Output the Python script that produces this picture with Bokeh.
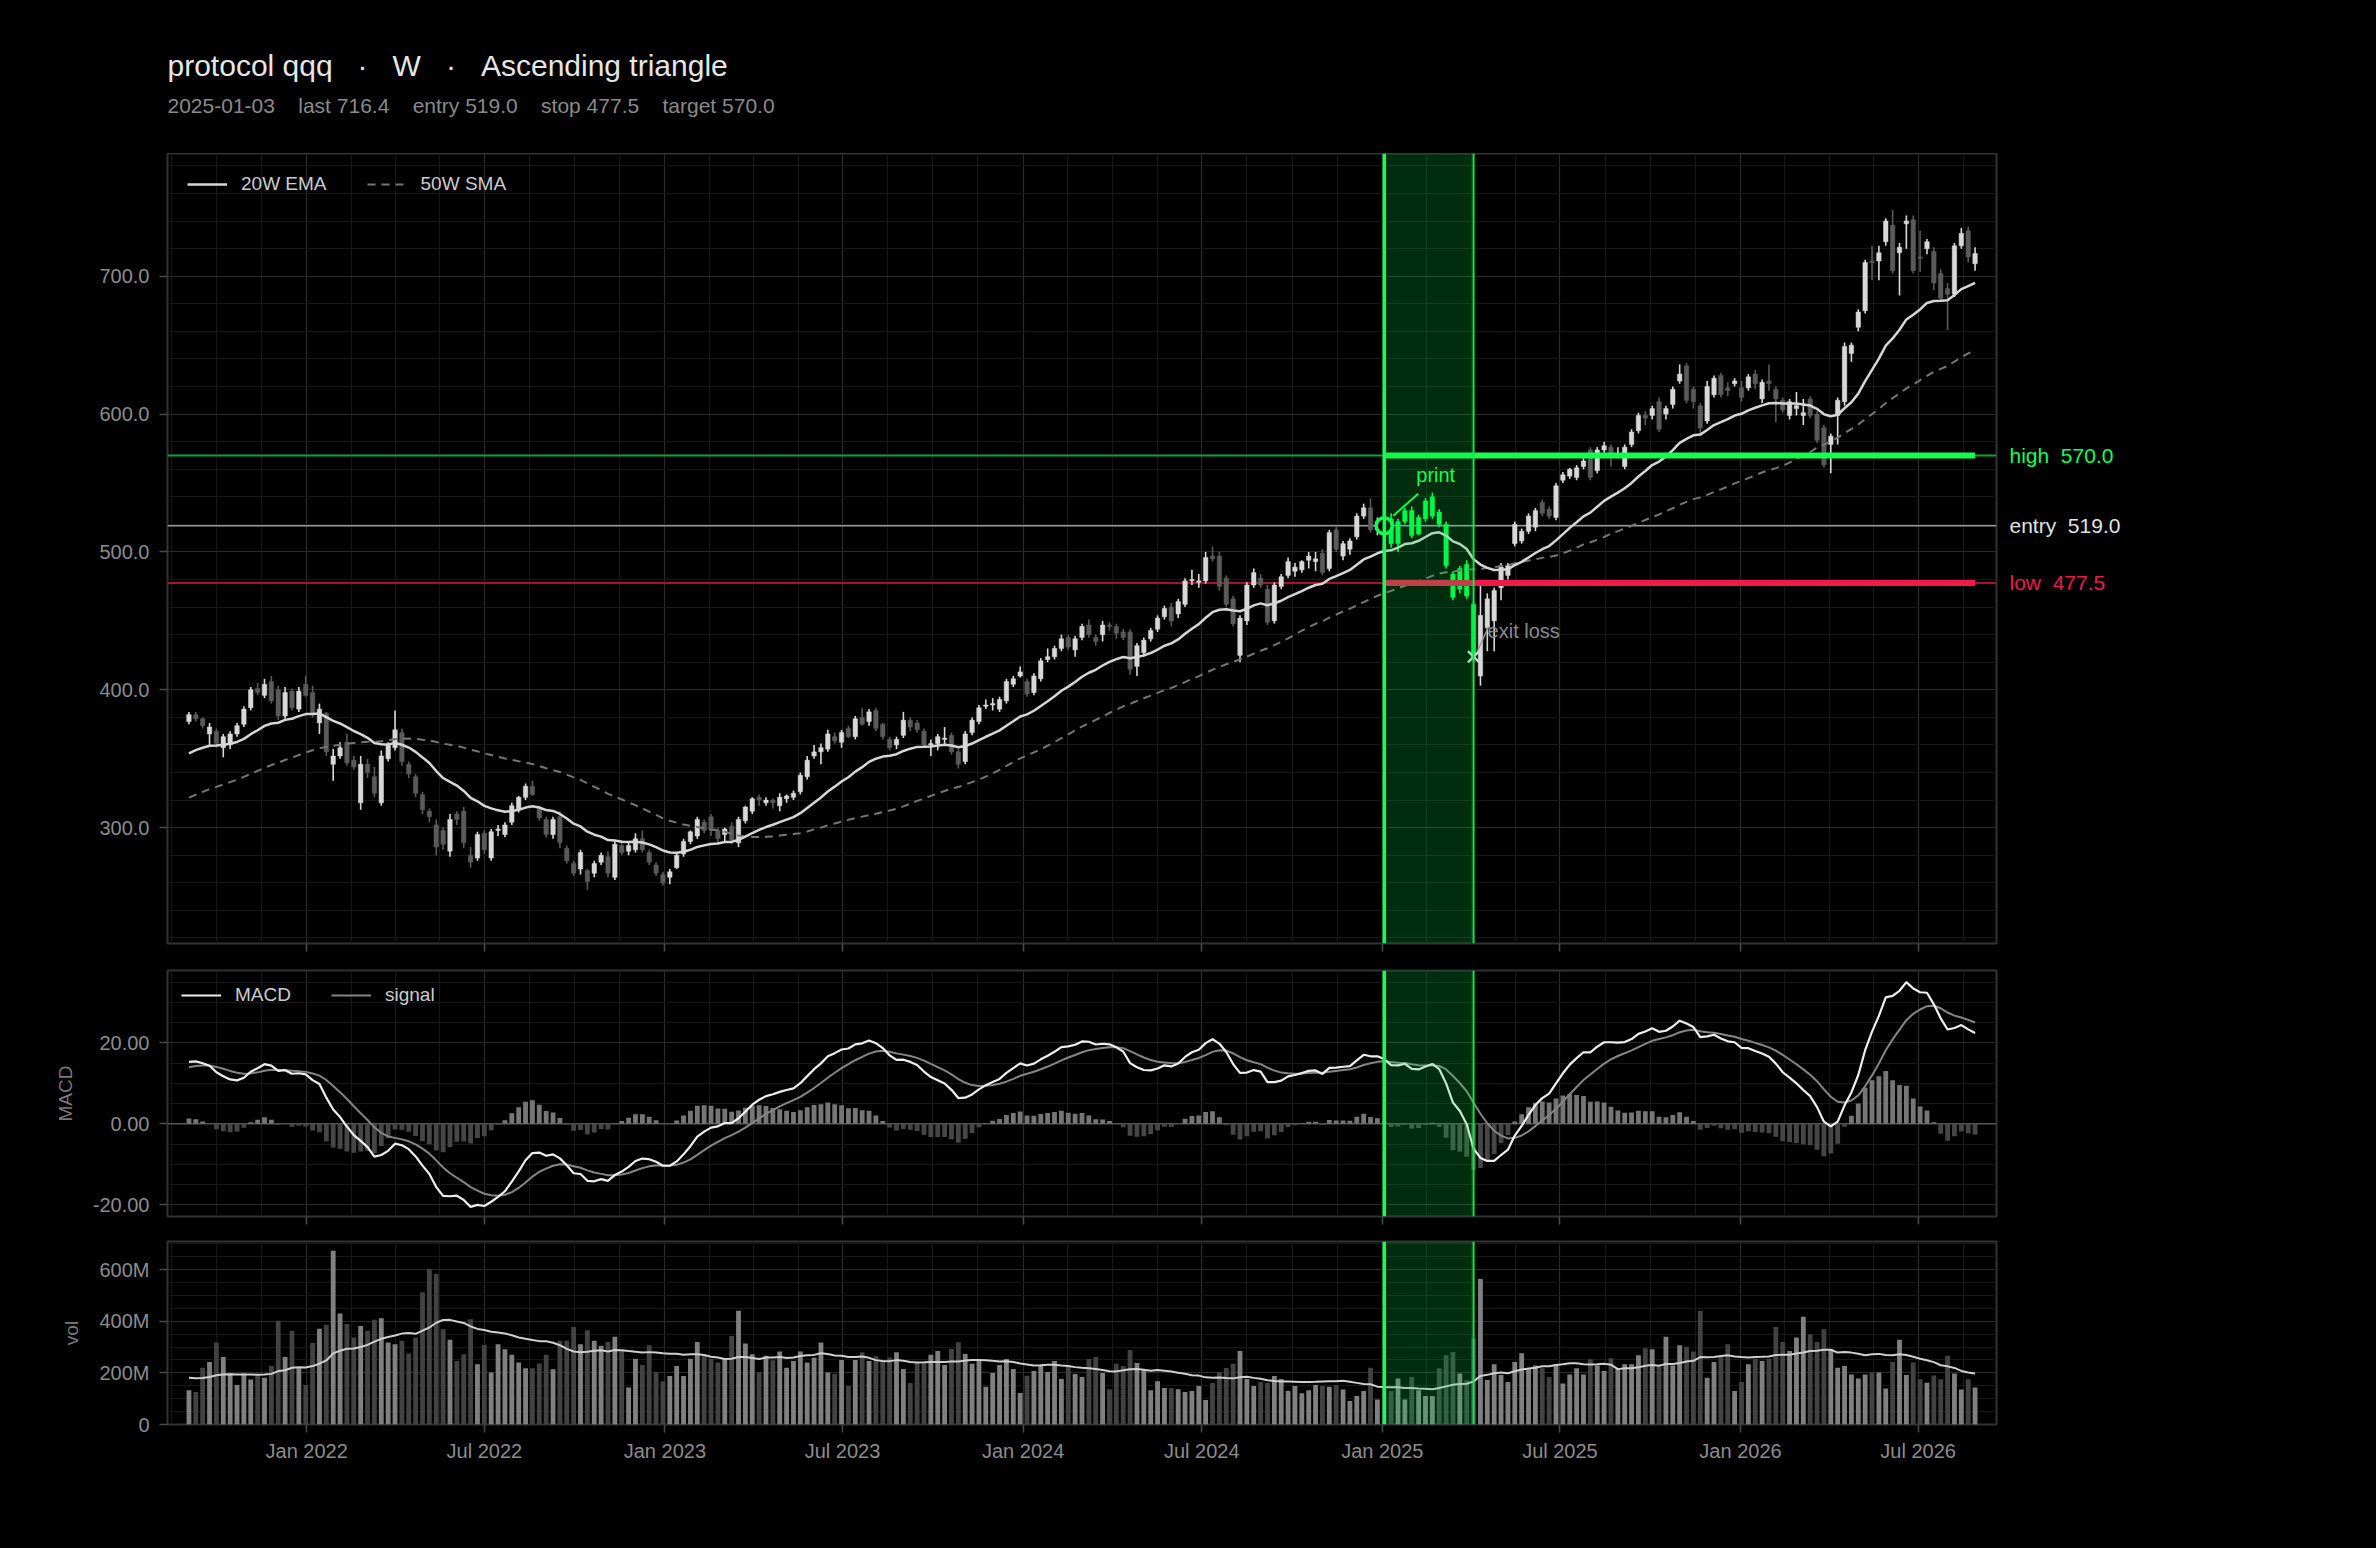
import numpy as np
import pandas as pd
from bokeh.plotting import figure
from bokeh.models import (Range1d, FixedTicker, NumeralTickFormatter, DatetimeTickFormatter,
                          Label, Span, BoxAnnotation, Legend, LegendItem, ColumnDataSource,
                          CustomLabelingPolicy)
from bokeh.layouts import column, row
from bokeh.embed import file_html
from bokeh.resources import INLINE

# ---------------- data ----------------
symbol = "protocol qqq"
timeframe = "W"
pattern_name = "Ascending triangle"
first_week = "2021-09-03"
entry_date = "2025-01-03"
exit_date = "2025-04-04"
last_price = 716.4
entry_price = 519.0
stop_price = 477.5
target_price = 570.0

opens = [
    377, 382, 379, 368, 370, 358, 360, 368, 375, 387,
    401, 396, 406, 400, 381, 399, 386, 404, 398, 376,
    383, 346, 352, 362, 349, 318, 346, 337, 318, 350,
    358, 369, 346, 337, 324, 312, 302, 298, 283, 310,
    312, 280, 278, 296, 278, 298, 295, 304, 313, 322,
    330, 314, 306, 295, 308, 285, 274, 270, 269, 267,
    275, 279, 264, 287, 283, 284, 292, 282, 273, 266,
    264, 271, 281, 290, 294, 304, 308, 298, 295, 301,
    289, 305, 312, 322, 318, 320, 316, 321, 322, 326,
    337, 352, 355, 357, 366, 362, 372, 366, 380, 377,
    385, 375, 364, 360, 367, 378, 376, 370, 360, 361,
    364, 367, 355, 348, 369, 377, 388, 389, 386, 392,
    404, 410, 406, 398, 408, 422, 424, 430, 438, 429,
    438, 447, 438, 440, 447, 446, 442, 442, 417, 427,
    437, 444, 453, 460, 455, 462, 479, 478, 479, 497,
    497, 481, 466, 425, 450, 476, 481, 473, 450, 475,
    483, 486, 487, 494, 493, 499, 488, 516, 497, 502,
    511, 526, 532, 516, 523, 524, 506, 522, 530, 513,
    524, 526, 529, 520, 484, 473, 491, 462, 410, 445,
    450, 474, 483, 506, 508, 515, 518, 536, 531, 525,
    552, 555, 554, 562, 574, 559, 574, 576, 570, 562,
    578, 588, 599, 599, 609, 600, 607, 624, 635, 618,
    606, 595, 614, 628, 619, 622, 619, 619, 629, 611,
    624, 618, 610, 599, 604, 599, 611, 600, 590, 578,
    599, 609, 644, 663, 675, 711, 711, 725, 737, 717,
    738, 741, 714, 720, 718, 702, 691, 687, 722, 733,
    709,
]
highs = [
    384, 384, 380, 376, 372, 368, 370, 376, 388, 402,
    405, 408, 410, 403, 402, 401, 402, 410, 403, 390,
    384, 357, 362, 368, 352, 352, 350, 344, 356, 362,
    385, 372, 348, 339, 326, 314, 306, 300, 310, 312,
    315, 286, 297, 298, 299, 302, 304, 318, 323, 332,
    334, 316, 308, 308, 312, 287, 276, 284, 270, 276,
    282, 283, 290, 291, 289, 296, 298, 284, 275, 268,
    270, 282, 292, 298, 308, 306, 310, 300, 300, 304,
    308, 316, 322, 324, 322, 321, 325, 324, 327, 340,
    352, 360, 361, 371, 369, 371, 374, 381, 387, 386,
    387, 376, 366, 366, 384, 380, 378, 372, 364, 368,
    373, 369, 357, 370, 380, 389, 393, 394, 395, 408,
    410, 417, 408, 412, 423, 430, 432, 440, 440, 439,
    448, 451, 440, 450, 449, 448, 444, 444, 434, 438,
    445, 454, 461, 463, 466, 481, 487, 484, 500, 504,
    500, 483, 468, 454, 478, 488, 484, 476, 478, 484,
    496, 492, 494, 500, 500, 502, 516, 518, 508, 510,
    528, 535, 539, 525, 526, 528, 524, 532, 533, 527,
    539, 543, 531, 522, 486, 490, 494, 464, 476, 470,
    474, 492, 492, 522, 517, 528, 532, 538, 533, 550,
    558, 561, 563, 568, 576, 576, 580, 578, 576, 578,
    589, 601, 602, 606, 612, 606, 620, 636, 637, 620,
    608, 624, 628, 630, 623, 626, 624, 629, 632, 625,
    636, 620, 612, 611, 616, 611, 613, 602, 592, 586,
    612, 652, 652, 676, 712, 722, 722, 742, 748, 724,
    744, 744, 733, 727, 721, 705, 695, 724, 735, 736,
    721,
]
lows = [
    375, 377, 372, 360, 358, 351, 357, 366, 373, 385,
    396, 394, 390, 378, 379, 385, 384, 395, 380, 368,
    352, 334, 350, 345, 342, 313, 336, 322, 316, 348,
    356, 345, 336, 322, 310, 304, 280, 284, 279, 302,
    285, 271, 276, 281, 276, 294, 293, 302, 311, 320,
    323, 305, 293, 292, 285, 274, 265, 266, 255, 264,
    273, 264, 262, 280, 280, 282, 282, 273, 265, 258,
    259, 270, 279, 288, 292, 296, 294, 288, 290, 288,
    286, 303, 310, 316, 316, 314, 312, 318, 320, 324,
    335, 350, 346, 355, 361, 358, 365, 364, 374, 374,
    370, 364, 356, 357, 365, 370, 369, 358, 352, 356,
    360, 353, 343, 346, 367, 375, 386, 385, 384, 390,
    402, 409, 395, 396, 406, 420, 422, 428, 429, 424,
    436, 438, 432, 435, 443, 437, 436, 411, 410, 424,
    435, 442, 451, 446, 452, 460, 476, 474, 477, 493,
    472, 460, 446, 420, 447, 474, 474, 447, 448, 473,
    481, 482, 485, 488, 486, 483, 486, 500, 494, 498,
    509, 524, 514, 512, 512, 503, 500, 520, 510, 512,
    522, 524, 518, 488, 465, 470, 466, 420, 403, 428,
    428, 465, 480, 504, 506, 513, 515, 526, 524, 523,
    550, 553, 552, 560, 552, 557, 572, 562, 568, 560,
    576, 586, 592, 596, 587, 596, 604, 622, 608, 604,
    586, 593, 612, 612, 613, 620, 609, 617, 618, 608,
    617, 594, 601, 596, 599, 592, 597, 579, 561, 557,
    578, 606, 638, 660, 673, 697, 697, 722, 702, 686,
    720, 702, 703, 716, 690, 682, 661, 685, 720, 710,
    704,
]
closes = [
    382, 379, 374, 373, 361, 366, 368, 374, 386, 400,
    398, 404, 392, 381, 398, 387, 399, 396, 383, 386,
    355, 352, 358, 347, 344, 346, 340, 325, 352, 360,
    371, 348, 339, 325, 313, 308, 286, 288, 306, 306,
    289, 275, 295, 284, 297, 299, 302, 316, 322, 330,
    324, 307, 295, 306, 289, 276, 267, 282, 261, 274,
    280, 267, 288, 282, 287, 292, 284, 275, 267, 260,
    268, 280, 290, 297, 306, 298, 298, 292, 299, 291,
    306, 315, 321, 320, 320, 318, 322, 323, 325, 338,
    349, 355, 358, 368, 363, 369, 366, 379, 375, 384,
    372, 366, 358, 364, 378, 373, 371, 360, 361, 366,
    365, 355, 346, 368, 378, 387, 389, 390, 393, 406,
    408, 413, 397, 410, 421, 424, 430, 437, 431, 437,
    446, 440, 435, 447, 446, 441, 438, 415, 432, 436,
    443, 452, 459, 450, 464, 479, 480, 479, 496, 495,
    475, 462, 448, 452, 476, 485, 476, 449, 476, 482,
    493, 489, 493, 497, 495, 485, 514, 502, 506, 508,
    526, 532, 516, 522, 516, 506, 522, 530, 512, 525,
    537, 540, 520, 490, 467, 488, 468, 424, 454, 466,
    472, 489, 490, 520, 515, 526, 530, 528, 526, 548,
    556, 560, 561, 566, 554, 574, 577, 569, 571, 576,
    587, 599, 597, 604, 589, 604, 618, 629, 610, 609,
    590, 620, 626, 614, 617, 624, 612, 627, 622, 623,
    622, 611, 603, 609, 606, 601, 599, 581, 563, 584,
    610, 649, 650, 674, 710, 710, 717, 740, 704, 721,
    740, 704, 713, 725, 695, 684, 687, 722, 731, 714,
    716.4,
]
volumes_m = [
    133, 126, 220, 242, 318, 262, 198, 153, 198, 174,
    194, 181, 227, 402, 262, 363, 218, 153, 316, 371,
    386, 673, 430, 389, 337, 382, 363, 406, 412, 318,
    311, 324, 275, 337, 512, 603, 583, 369, 328, 246,
    272, 408, 233, 308, 201, 311, 292, 270, 240, 218,
    218, 236, 270, 214, 324, 324, 378, 311, 365, 324,
    305, 320, 340, 285, 143, 255, 231, 307, 203, 168,
    188, 227, 188, 255, 320, 266, 255, 240, 253, 343,
    441, 314, 272, 201, 266, 249, 283, 220, 246, 283,
    240, 259, 318, 201,
    196, 250, 150, 250, 280, 246, 264, 248, 260, 280,
    215, 161, 241, 238, 270, 285, 231, 293, 319, 273,
    235, 251, 146, 200, 231, 254, 215, 122, 189, 207,
    228, 203, 246, 176, 231, 196, 184, 254, 262, 200,
    137, 235, 227, 289, 238, 211, 133, 168, 141, 141,
    137, 126, 130, 149, 95, 161, 203, 219, 235, 285,
    176, 149, 165, 161, 188, 176, 130, 149,
    121, 133, 153, 149, 146, 153, 136, 91, 110, 130,
    220, 97, 143, 130, 178, 97, 184, 133, 110, 110,
    218, 268, 281, 198, 171, 333, 564, 172, 233, 192,
    165, 242, 276, 218, 229, 218, 184, 233, 159, 194,
    218, 194, 253, 229, 207, 257, 218, 233, 233, 268,
    295, 292, 229, 340, 229, 307, 301, 283, 441, 181,
    242, 266, 311, 130, 165, 233, 255, 246, 255, 378,
    320, 285, 337, 417, 350, 320, 369, 292, 220, 227,
    194, 178, 194, 201, 201, 139, 242, 328, 192, 240,
    175, 162, 190, 175, 266, 198, 136, 175, 143,
]
# weeks before the first drawn bar (used only to warm up the indicators)
pre_closes = [
    268, 272, 270, 276, 279, 277, 283, 286, 284, 289,
    292, 290, 295, 298, 296, 301, 304, 302, 307, 310,
    308, 313, 316, 314, 319, 322, 320, 325, 328, 326,
    331, 334, 332, 337, 340, 338, 343, 346, 344, 349,
    352, 350, 355, 358, 356, 361, 364, 368, 372, 375,
]
pre_volumes_m = [185, 172, 198, 160, 190, 205, 175, 168, 192, 180,
                 210, 165, 178, 188, 195, 170, 182, 176, 200, 186]

# ---------------- derived ----------------
n = len(closes)
dates = pd.date_range(first_week, periods=n, freq="7D")
def to_ms(ts):
    return float(pd.Timestamp(ts).value // 10**6)
x_ms = np.array([to_ms(d) for d in dates])
WEEK = 7 * 24 * 3600 * 1000.0

o = np.array(opens, float); h = np.array(highs, float)
l = np.array(lows, float); c = np.array(closes, float)
up = c >= o
entry_ms = to_ms(entry_date); exit_ms = to_ms(exit_date)
in_trade = (x_ms >= entry_ms) & (x_ms <= exit_ms)
exit_idx = int(np.argmin(np.abs(x_ms - exit_ms)))

all_c = pd.Series(pre_closes + closes, dtype=float)
npre = len(pre_closes)
ema20 = all_c.ewm(span=20, adjust=False).mean().to_numpy()[npre:]
sma50 = all_c.rolling(50).mean().to_numpy()[npre:]
macd_all = all_c.ewm(span=12, adjust=False).mean() - all_c.ewm(span=26, adjust=False).mean()
sig_all = macd_all.ewm(span=9, adjust=False).mean()
macd = macd_all.to_numpy()[npre:]
signal = sig_all.to_numpy()[npre:]
hist = macd - signal
all_v = pd.Series(pre_volumes_m + volumes_m, dtype=float)
vol_ma = all_v.rolling(20).mean().to_numpy()[len(pre_volumes_m):]

# ---------------- layout constants ----------------
FONT = "Liberation Sans"
FL, FW, FR = 167, 1829, 10
W = FL + FW + FR
HDR_H = 153
P_H, P_BOT = 790, 14
P_LO, P_HI = 216.0, 789.0
M_LO, M_HI = -22.9, 37.9
V_LO, V_HI = 0.0, 709.0
RW = 140  # width of the strip holding the level labels

span_ms = x_ms[-1] - x_ms[0]
pad = 0.012 * span_ms
xr = Range1d(x_ms[0] - pad, x_ms[-1] + pad)
ms_per_px = (xr.end - xr.start) / FW

GREEN = "#14ff50"
RED = "#f2184a"
UPC, DNC = "#d8d8d8", "#5a5a5a"
NB = "\u00a0"

# x ticks: Jan / Jul majors, 4 sub-intervals as minor grid
all_major = [pd.Timestamp(f"{y}-{m:02d}-01") for y in range(2021, 2028) for m in (1, 7)]
major_ms = [to_ms(t) for t in all_major if xr.start <= to_ms(t) <= xr.end]
minor_ms = []
for a, b in zip(all_major[:-1], all_major[1:]):
    for k in (1, 2, 3):
        v = to_ms(a) + (to_ms(b) - to_ms(a)) * k / 4
        if xr.start <= v <= xr.end:
            minor_ms.append(v)
x_ticker = FixedTicker(ticks=major_ms, minor_ticks=minor_ms)
fmt = "%b %Y"
x_fmt = DatetimeTickFormatter(milliseconds=fmt, seconds=fmt, minsec=fmt, minutes=fmt,
                              hourmin=fmt, hours=fmt, days=fmt, months=fmt, years=fmt)


def make_fig(frame_h, top, bottom, ylo, yhi, yticks, yminor, yfmt, show_x_labels):
    p = figure(width=W, height=top + frame_h + bottom, x_range=xr, y_range=Range1d(ylo, yhi),
               x_axis_type="datetime", output_backend="svg", toolbar_location=None, title=None,
               min_border_left=FL, min_border_right=FR, min_border_top=top, min_border_bottom=bottom)
    p.background_fill_color = "#000000"
    p.border_fill_color = "#000000"
    p.outline_line_color = "#333333"
    p.outline_line_width = 2
    yt = FixedTicker(ticks=yticks, minor_ticks=yminor)
    p.yaxis[0].ticker = yt
    p.ygrid[0].ticker = yt
    p.xaxis[0].ticker = x_ticker
    p.xgrid[0].ticker = x_ticker
    p.xaxis[0].formatter = x_fmt
    if yfmt is not None:
        p.yaxis[0].formatter = yfmt
    for g in (p.xgrid[0], p.ygrid[0]):
        g.grid_line_color = "#2a2a2a"
        g.grid_line_width = 1.2
        g.minor_grid_line_color = "#171717"
        g.minor_grid_line_width = 1
    for ax in (p.xaxis[0], p.yaxis[0]):
        ax.axis_line_color = None
        ax.major_tick_line_color = "#4a4a4a"
        ax.major_tick_line_width = 1.5
        ax.major_tick_out = 8
        ax.major_tick_in = 0
        ax.minor_tick_line_color = None
        ax.major_label_text_color = "#8c8c8c"
        ax.major_label_text_font = FONT
        ax.major_label_text_font_size = "20px"
        ax.axis_label_text_color = "#7a7a7a"
        ax.axis_label_text_font = FONT
        ax.axis_label_text_font_size = "19px"
        ax.axis_label_text_font_style = "normal"
        ax.axis_label_standoff = 14
    p.yaxis[0].major_label_standoff = 10
    if show_x_labels:
        p.xaxis[0].major_label_standoff = 7
    else:
        # tick marks only (shared date axis is labelled on the bottom panel)
        p.xaxis[0].major_label_policy = CustomLabelingPolicy(code="return []")
        p.xaxis[0].major_label_text_font_size = "2px"
        p.xaxis[0].major_label_standoff = 0
    # trade window
    p.add_layout(BoxAnnotation(left=entry_ms, right=exit_ms, fill_color="#00e040",
                               fill_alpha=0.2, line_color=None))
    p.add_layout(Span(location=entry_ms, dimension="height", line_color=GREEN, line_width=3.5))
    p.add_layout(Span(location=exit_ms, dimension="height", line_color="#10e848", line_width=2))
    return p


def legend_for(p, items, margin, padding):
    lg = Legend(items=items, location="top_left", orientation="horizontal",
                background_fill_alpha=0, border_line_alpha=0, label_text_color="#cccccc",
                label_text_font=FONT, label_text_font_size="19px", glyph_width=40,
                glyph_height=20, label_standoff=14, spacing=40, margin=margin, padding=padding)
    p.add_layout(lg)


def blank_fig(width, height, xr_, yr_, **borders):
    f = figure(width=width, height=height, x_range=xr_, y_range=yr_,
               x_axis_location=None, y_axis_location=None, toolbar_location=None,
               output_backend="svg", title=None, **borders)
    f.background_fill_color = "#000000"
    f.border_fill_color = "#000000"
    f.outline_line_color = None
    f.grid.visible = False
    return f


# ---------------- header ----------------
hdr = blank_fig(W, HDR_H, Range1d(0, FW), Range1d(0, HDR_H),
                min_border_left=FL, min_border_right=FR, min_border_top=0, min_border_bottom=0)
title_text = f"{symbol}{NB*3}·{NB*3}{timeframe}{NB*3}·{NB*3}{pattern_name}"
sub_text = (f"{entry_date}{NB*4}last {last_price:.1f}{NB*4}entry {entry_price:.1f}"
            f"{NB*4}stop {stop_price:.1f}{NB*4}target {target_price:.1f}")
hdr.add_layout(Label(x=0, y=HDR_H - 65, text=title_text, text_font=FONT, text_font_size="30px",
                     text_color="#e6e6e6", text_baseline="middle"))
hdr.add_layout(Label(x=0, y=HDR_H - 104.5, text=sub_text, text_font=FONT, text_font_size="21px",
                     text_color="#8a8a8a", text_baseline="middle"))

# ---------------- price panel ----------------
p1 = make_fig(P_H, 0, P_BOT, P_LO, P_HI, [300, 400, 500, 600, 700], list(range(220, 790, 20)),
              NumeralTickFormatter(format="0.0"), False)
price_per_px = (P_HI - P_LO) / P_H

# reference lines (thin, full width)
p1.add_layout(Span(location=target_price, dimension="width", line_color="#0aa633", line_width=2, level="underlay"))
p1.add_layout(Span(location=entry_price, dimension="width", line_color="#9a9a9a", line_width=1.5, level="underlay"))
p1.add_layout(Span(location=stop_price, dimension="width", line_color="#a8102e", line_width=2, level="underlay"))

colors = np.where(in_trade, "#00ff4c", np.where(up, UPC, DNC))
csrc = ColumnDataSource(dict(x=x_ms, o=o, h=h, l=l, c=c,
                             top=np.maximum(o, c), bot=np.minimum(o, c), color=colors))
p1.segment(x0="x", y0="h", x1="x", y1="l", line_color="color", line_width=1.6, source=csrc)
p1.vbar(x="x", width=0.65 * WEEK, top="top", bottom="bot", fill_color="color",
        line_color="color", line_width=0.5, source=csrc)

r_sma = p1.line(x_ms, sma50, line_color="#767676", line_width=2, line_dash="8 6")
r_ema = p1.line(x_ms, ema20, line_color="#d6d6d6", line_width=2.5)

# thick active levels from entry to last bar
p1.segment(x0=[entry_ms], y0=[target_price], x1=[x_ms[-1]], y1=[target_price],
           line_color=GREEN, line_width=6)
p1.segment(x0=[entry_ms], y0=[stop_price], x1=[x_ms[-1]], y1=[stop_price],
           line_color=RED, line_width=6)

# entry marker + annotation
p1.segment(x0=[entry_ms + 9 * ms_per_px], y0=[entry_price + 10 * price_per_px],
           x1=[entry_ms + 34 * ms_per_px], y1=[entry_price + 32 * price_per_px],
           line_color=GREEN, line_width=2)
p1.scatter([entry_ms], [entry_price], marker="circle", size=16, fill_color="#000000",
           line_color=GREEN, line_width=3.5)
p1.add_layout(Label(x=entry_ms, y=entry_price, x_offset=32, y_offset=51, text="print",
                    text_font=FONT, text_font_size="20px", text_color=GREEN,
                    text_baseline="middle"))
# exit marker + annotation
exit_px = closes[exit_idx]
p1.segment(x0=[exit_ms + 4 * ms_per_px], y0=[exit_px + 6 * price_per_px],
           x1=[exit_ms + 15 * ms_per_px], y1=[exit_px + 30 * price_per_px],
           line_color="#9a9a9a", line_width=1.5)
p1.scatter([exit_ms], [exit_px], marker="x", size=16, line_color="#d0d0d0", line_width=2.5)
p1.add_layout(Label(x=exit_ms, y=exit_px, x_offset=14, y_offset=26, text="exit loss",
                    text_font=FONT, text_font_size="20px", text_color="#8a8a8a",
                    text_baseline="middle"))

legend_for(p1, [LegendItem(label="20W EMA", renderers=[r_ema]),
                LegendItem(label="50W SMA", renderers=[r_sma])], 10, 10)

# level labels to the right of the price frame (own strip sharing the price scale)
rfig = blank_fig(RW, HDR_H + P_H + P_BOT, Range1d(0, RW), p1.y_range,
                 min_border_left=0, min_border_right=0, min_border_top=HDR_H,
                 min_border_bottom=P_BOT)
for yv, name, col in ((target_price, "high", GREEN), (entry_price, "entry", "#e2e2e2"),
                      (stop_price, "low", RED)):
    rfig.add_layout(Label(x=3, y=yv, text=f"{name}{NB*2}{yv:.1f}",
                          text_font=FONT, text_font_size="21px", text_color=col,
                          text_baseline="middle"))

# ---------------- MACD panel ----------------
p2 = make_fig(247, 13, 12, M_LO, M_HI, [-20, 0, 20], list(range(-20, 40, 5)),
              NumeralTickFormatter(format="0.00"), False)
p2.yaxis[0].axis_label = "MACD"
p2.add_layout(Span(location=0, dimension="width", line_color="#555555", line_width=1.5, level="underlay"))
hcol = np.where(hist >= 0, "#767676", "#464646")
p2.vbar(x=x_ms, width=0.7 * WEEK, top=hist, bottom=0, fill_color=hcol, line_color=None)
r_sig = p2.line(x_ms, signal, line_color="#858585", line_width=2)
r_macd = p2.line(x_ms, macd, line_color="#eeeeee", line_width=2.2)
legend_for(p2, [LegendItem(label="MACD", renderers=[r_macd]),
                LegendItem(label="signal", renderers=[r_sig])], 6, 8)

# ---------------- volume panel ----------------
p3 = make_fig(183, 12, 60, V_LO, V_HI, [0, 200, 400, 600], list(range(0, 710, 50)), None, True)
p3.yaxis[0].major_label_overrides = {0: "0", 200: "200M", 400: "400M", 600: "600M"}
p3.yaxis[0].axis_label = "vol"
vcol = np.where(up, "#808080", "#424242")
p3.vbar(x=x_ms, width=0.7 * WEEK, top=np.array(volumes_m, float), bottom=0,
        fill_color=vcol, line_color=None)
p3.line(x_ms, vol_ma, line_color="#cfcfcf", line_width=2)

layout = row(column(hdr, p1, p2, p3, spacing=0), rfig, spacing=0)
html = file_html(layout, INLINE, title="protocol qqq")
html = html.replace("<head>", "<head><style>html,body{background:#000000;}</style>", 1)
open("out.html", "w").write(html)
